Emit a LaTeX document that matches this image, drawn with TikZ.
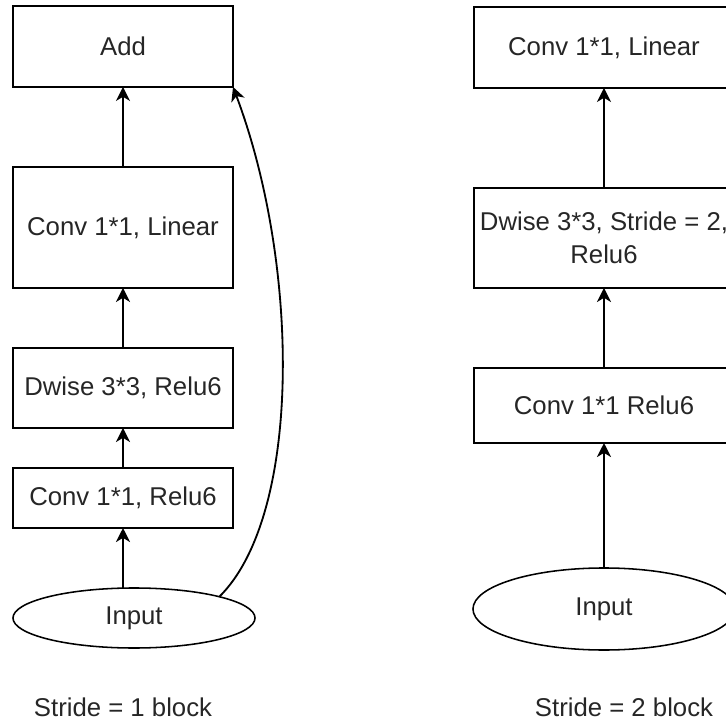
\documentclass[tikz,border=0pt]{standalone}
\usepackage{fontspec}
\setmainfont{Liberation Sans}
\usetikzlibrary{arrows.meta,positioning,shapes.geometric}

\begin{document}
\begin{tikzpicture}[
x=0.025cm,y=-0.025cm,
font=\fontsize{18.3}{23.4}\selectfont,
box/.style={draw,line width=1.3pt,align=center,outer sep=0pt,inner sep=0pt,text=black!85},
col1/.style={box,minimum width=5.5cm},
col2/.style={box,minimum width=6.5cm},
oval/.style={draw,ellipse,line width=1.1pt,outer sep=0pt,inner sep=0pt,text=black!85},
arr/.style={-{Stealth[length=10pt,width=10pt,inset=3pt]},line width=1.3pt}]
\clip (0,0) rectangle (726,723);
% stride 1: residual block
\node[col1,minimum height=1.5cm] (cr1) at (123,498) {Conv 1*1, Relu6};
\node[col1,minimum height=2cm,above=1cm of cr1] (dw1) {Dwise 3*3, Relu6};
\node[col1,minimum height=3.025cm,above=1.5cm of dw1] (lin1) {Conv 1*1, Linear};
\node[col1,minimum height=2.025cm,above=2cm of lin1] (add) {Add};
\node[oval,minimum width=6.05cm,minimum height=1.5cm] (in1) at (134,618) {Input};
\node[text=black!85] (cap1) at (123,707) {Stride = 1 block};
\draw[arr] (cr1.south |- in1.north) -- (cr1);
\draw[arr] (cr1) -- (dw1); \draw[arr] (dw1) -- (lin1);
\draw[arr] (lin1) -- (add);
\draw[arr] (in1.14) .. controls (302,515) and (300,265) .. (add.south east);
% stride 2: no shortcut
\node[col2,minimum height=1.875cm] (cr2) at (604,405.5) {Conv 1*1 Relu6};
\node[col2,minimum height=2.5cm,above=2cm of cr2] (dw2) {Dwise 3*3, Stride = 2,\\Relu6};
\node[col2,minimum height=2.025cm,above=2.5cm of dw2] (lin2) {Conv 1*1, Linear};
\node[oval,minimum width=6.55cm,minimum height=2.05cm] (in2) at (604,609) {Input};
\node[text=black!85] (cap2) at (624,707) {Stride = 2 block};
\draw[arr] (in2) -- (cr2); \draw[arr] (cr2) -- (dw2);
\draw[arr] (dw2) -- (lin2);
\end{tikzpicture}
\end{document}
